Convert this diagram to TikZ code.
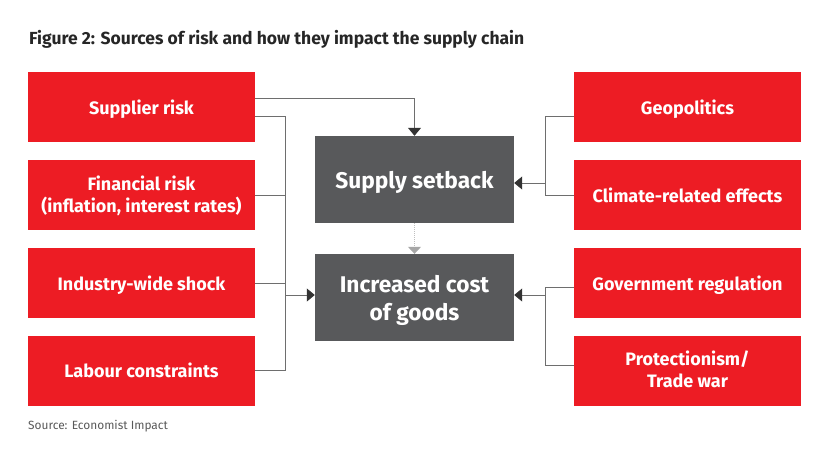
\documentclass[tikz,border=0pt]{standalone}
\usepackage{xcolor}
\usepackage{fontspec}
\setmainfont{Fira Sans}
\usetikzlibrary{
	arrows.meta,
	positioning
}
\definecolor{RiskRed}{RGB}{237,28,36}
\definecolor{DarkSlate}{RGB}{88,89,91}
\definecolor{LineGray}{RGB}{110,110,110}
\tikzset{
	riskbox/.style={fill=RiskRed, text=white, minimum width=227pt, minimum height=70pt, inner sep=0pt, align=center, text height=14pt, text depth=0pt, font=\fontsize{18}{22}\selectfont\bfseries},
	effectbox/.style={fill=DarkSlate, text=white, minimum width=199pt, minimum height=87pt, inner sep=0pt, align=center, text height=17.5pt, text depth=0pt, font=\fontsize{22.7}{28}\selectfont\bfseries},
	link/.style={draw=LineGray, line width=1pt},
	linkarrow/.style={link, -{Triangle[length=8pt,width=13pt,color=black!80]}}
}
\begin{document}
\begin{tikzpicture}[x=1pt, y=-1pt]
	\useasboundingbox (0,0) rectangle (831,450);
	\node[anchor=west, font=\fontsize{17.5}{20}\selectfont\bfseries, text=black!85, inner sep=0pt] (title) at (29,39) {Figure 2: Sources of risk and how they impact the supply chain};

	% left column
	\node[riskbox] (supplier) at (141.5,107) {Supplier risk};
	\node[riskbox, text height=34pt] (financial) at (141.5,195) {Financial risk\\(inflation, interest rates)};
	\node[riskbox] (industry) at (141.5,283) {Industry-wide shock};
	\node[riskbox] (labour) at (141.5,370.5) {Labour constraints};

	% right column
	\node[riskbox] (geo) at (687.5,107) {Geopolitics};
	\node[riskbox] (climate) at (687.5,195) {Climate-related effects};
	\node[riskbox] (regulation) at (687.5,283) {Government regulation};
	\node[riskbox, text height=34pt] (trade) at (687.5,370.5) {Protectionism/\\Trade war};

	% centre
	\node[effectbox] (setback) at (414.5,179.5) {Supply setback};
	\node[effectbox, text height=46.5pt] (cost) at (414.5,297.5) {Increased cost\\of goods};

	\node[anchor=west, font=\fontsize{11.9}{15}\selectfont, text=black!65, inner sep=0pt] (source) at (28,426) {Source: Economist Impact};

	% joints
	\coordinate (leftTop) at (285,116);
	\coordinate (leftBottom) at (285,370.5);
	\coordinate (leftJoin) at (285,295);
	\coordinate (rightSetback) at (545,183);
	\coordinate (rightGeo) at (545,116);
	\coordinate (rightCost) at (545,295);
	\coordinate (rightReg) at (545,287);
	\coordinate (rightTrade) at (545,365);

	% supplier goes straight to the setback box
	\draw[linkarrow] ([yshift=9pt]supplier.east) -| (setback.north);

	\draw[link] ([yshift=-9pt]supplier.east) -- (leftTop) -- (leftBottom) -- (labour.east);
	\draw[link] (financial.east) -- (financial.east -| leftTop);
	\draw[link] (industry.east) -- (industry.east -| leftTop);
	\draw[linkarrow] (leftJoin) -- (leftJoin -| cost.west);

	\draw[link] (geo.west |- rightGeo) -- (rightGeo) -- (climate.west -| rightGeo) -- (climate.west);
	\draw[linkarrow] (rightSetback) -- (rightSetback -| setback.east);

	\draw[link] (regulation.west |- rightReg) -- (rightReg) -- (rightTrade) -- (trade.west |- rightTrade);
	\draw[linkarrow] (rightCost) -- (rightCost -| cost.east);

	% dotted link between the two effects
	\draw[draw=black!25, line width=1pt, densely dotted, -{Triangle[length=7pt,width=13pt,color=black!35]}] (setback.south) -- (cost.north);
\end{tikzpicture}
\end{document}
